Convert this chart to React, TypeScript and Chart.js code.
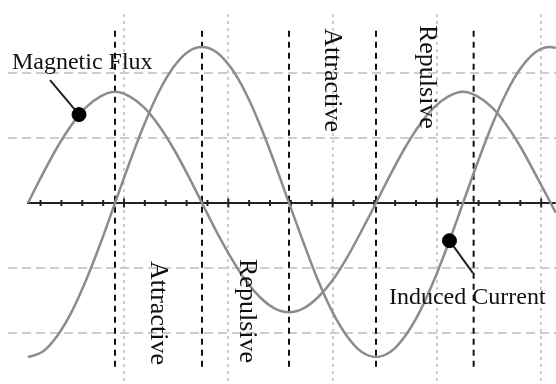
import React, { useEffect, useRef } from "react";
import { Chart, registerables } from "chart.js";

Chart.register(...registerables);

// Phase (degrees) at which the curves were read
const phaseDeg = [
  0, 15, 30, 45, 60, 75, 90, 105, 120, 135, 150, 165, 180, 195, 210, 225, 240, 255, 270,
  285, 300, 315, 330, 345, 360, 375, 390, 405, 420, 435, 450, 465, 480, 495, 510, 525, 540, 546,
];
const magneticFlux = [
  0, 0.44, 0.85, 1.2, 1.47, 1.64, 1.71, 1.64, 1.47, 1.2, 0.85, 0.44, 0, -0.44, -0.84, -1.19,
  -1.45, -1.62, -1.68, -1.62, -1.45, -1.19, -0.84, -0.43, 0, 0.44, 0.85, 1.2, 1.47, 1.64, 1.71,
  1.64, 1.47, 1.2, 0.85, 0.44, 0.02, -0.15,
];
const inducedCurrent = [
  -2.37, -2.29, -2.05, -1.68, -1.19, -0.62, 0, 0.62, 1.2, 1.7, 2.08, 2.32, 2.4, 2.32, 2.08, 1.7,
  1.2, 0.62, 0, -0.61, -1.19, -1.68, -2.05, -2.29, -2.37, -2.29, -2.05, -1.68, -1.19, -0.62, 0,
  0.62, 1.2, 1.7, 2.08, 2.32, 2.4, 2.39,
];

// Black dashed boundaries (phase, degrees) and their vertical extent
const boundaryDeg = [90, 180, 270, 360, 461];
const boundaryExtent = [-2.52, 2.66];

// Horizontal axis extent (degrees)
const axisExtentDeg = [-1, 546];

// Light grid (grid units) and axis tick marks
const gridXUnits = [5, 10, 15, 20, 25];
const gridYUnits = [-2, -1, 1, 2];
const minorTickUnits = [1, 2, 3, 4, 6, 7, 8, 9, 11, 12, 13, 14, 16, 17, 18, 19, 21, 22, 23, 24];
const majorTickUnits = [5, 10, 15, 20, 25];

// Callout markers: dot on curve and end of leader line
const calloutDots = [
  { x: 52.8, y: 1.36 },
  { x: 436, y: -0.58 },
];
const calloutEnds = [
  { x: 22.8, y: 1.89 },
  { x: 460.3, y: -1.08 },
];

// Text labels (anchor in data units)
const horizontalLabels = [
  { text: "Magnetic Flux", x: -16.6, y: 2.06 },
  { text: "Induced Current", x: 373.4, y: -1.554 },
];
const verticalLabels = [
  { text: "Attractive", x: 307.2, y: 2.69 },
  { text: "Repulsive", x: 405.5, y: 2.74 },
  { text: "Attractive", x: 127.2, y: -0.892 },
  { text: "Repulsive", x: 219.3, y: -0.862 },
];

const labelPlugin = {
  id: "labels",
  afterDatasetsDraw(chart: any) {
    const { ctx } = chart;
    const xs = chart.scales.x;
    const ys = chart.scales.y;
    ctx.save();
    ctx.fillStyle = "#111";
    ctx.textBaseline = "alphabetic";
    ctx.textAlign = "left";
    ctx.font = '24px "Liberation Serif", "Times New Roman", serif';
    horizontalLabels.forEach((l) => {
      ctx.fillText(l.text, xs.getPixelForValue(l.x), ys.getPixelForValue(l.y));
    });
    ctx.font = '26px "Liberation Serif", "Times New Roman", serif';
    verticalLabels.forEach((l) => {
      ctx.save();
      ctx.translate(xs.getPixelForValue(l.x), ys.getPixelForValue(l.y));
      ctx.rotate(Math.PI / 2);
      ctx.fillText(l.text, 0, 0);
      ctx.restore();
    });
    ctx.restore();
  },
};

export default function App() {
  const ref = useRef<HTMLCanvasElement | null>(null);

  useEffect(() => {
    document.body.style.margin = "0";
    const canvas = ref.current;
    if (!canvas) return;

    const curveStyle = {
      borderColor: "#8c8c8c",
      borderWidth: 2.5,
      pointRadius: 0,
      fill: false,
      cubicInterpolationMode: "monotone" as const,
      xAxisID: "x",
      yAxisID: "y",
    };

    const datasets: any[] = [
      {
        label: "callout dots",
        type: "scatter",
        data: calloutDots,
        pointRadius: 7,
        pointBackgroundColor: "#000",
        pointBorderColor: "#000",
        xAxisID: "x",
        yAxisID: "y",
      },
      ...calloutDots.map((d, i) => ({
        label: "leader" + i,
        type: "line",
        data: [d, calloutEnds[i]],
        borderColor: "#222",
        borderWidth: 2,
        pointRadius: 0,
        xAxisID: "x",
        yAxisID: "y",
      })),
      {
        label: "Magnetic Flux",
        type: "line",
        data: phaseDeg.map((p, i) => ({ x: p, y: magneticFlux[i] })),
        ...curveStyle,
      },
      {
        label: "Induced Current",
        type: "line",
        data: phaseDeg.map((p, i) => ({ x: p, y: inducedCurrent[i] })),
        ...curveStyle,
      },
      ...boundaryDeg.map((b, i) => ({
        label: "boundary" + i,
        type: "line",
        data: [
          { x: b, y: boundaryExtent[0] },
          { x: b, y: boundaryExtent[1] },
        ],
        borderColor: "#111",
        borderWidth: 2,
        borderDash: [6, 5],
        pointRadius: 0,
        xAxisID: "x",
        yAxisID: "y",
      })),
      {
        label: "minor ticks",
        type: "scatter",
        data: minorTickUnits.map((u) => ({ x: u, y: 0 })),
        pointStyle: "line",
        rotation: 90,
        pointRadius: 3,
        borderWidth: 2,
        borderColor: "#222",
        xAxisID: "xg",
        yAxisID: "y",
      },
      {
        label: "major ticks",
        type: "scatter",
        data: majorTickUnits.map((u) => ({ x: u, y: 0 })),
        pointStyle: "line",
        rotation: 90,
        pointRadius: 4.5,
        borderWidth: 2,
        borderColor: "#222",
        xAxisID: "xg",
        yAxisID: "y",
      },
      {
        label: "axis",
        type: "line",
        data: axisExtentDeg.map((d) => ({ x: d, y: 0 })),
        borderColor: "#222",
        borderWidth: 2,
        pointRadius: 0,
        xAxisID: "x",
        yAxisID: "y",
      },
    ];

    const chart = new Chart(canvas, {
      type: "line",
      data: { datasets },
      plugins: [labelPlugin],
      options: {
        responsive: false,
        animation: false,
        devicePixelRatio: 1,
        events: [],
        layout: { autoPadding: false, padding: { top: 14, left: 8, right: 0, bottom: 0 } },
        plugins: {
          legend: { display: false },
          tooltip: { enabled: false },
        },
        scales: {
          x: {
            type: "linear",
            min: -20.69,
            max: 546.2,
            display: false,
          },
          xg: {
            type: "linear",
            position: "bottom",
            min: -0.561,
            max: 25.71,
            afterBuildTicks: (s: any) => {
              s.ticks = gridXUnits.map((v) => ({ value: v }));
            },
            ticks: { display: false },
            grid: { color: "#cdcdcd", lineWidth: 2, drawTicks: false },
            border: { display: false, dash: [3, 4] },
          },
          y: {
            type: "linear",
            position: "left",
            min: -2.785,
            max: 2.908,
            afterBuildTicks: (s: any) => {
              s.ticks = gridYUnits.map((v) => ({ value: v }));
            },
            ticks: { display: false },
            grid: { color: "#cdcdcd", lineWidth: 2, drawTicks: false },
            border: { display: false, dash: [9, 5] },
          },
        },
      } as any,
    });

    return () => chart.destroy();
  }, []);

  return (
    <div style={{ position: "absolute", left: 0, top: 0, width: 556, height: 384, background: "#fff" }}>
      <canvas ref={ref} width={556} height={384} style={{ display: "block", width: 556, height: 384 }} />
    </div>
  );
}
